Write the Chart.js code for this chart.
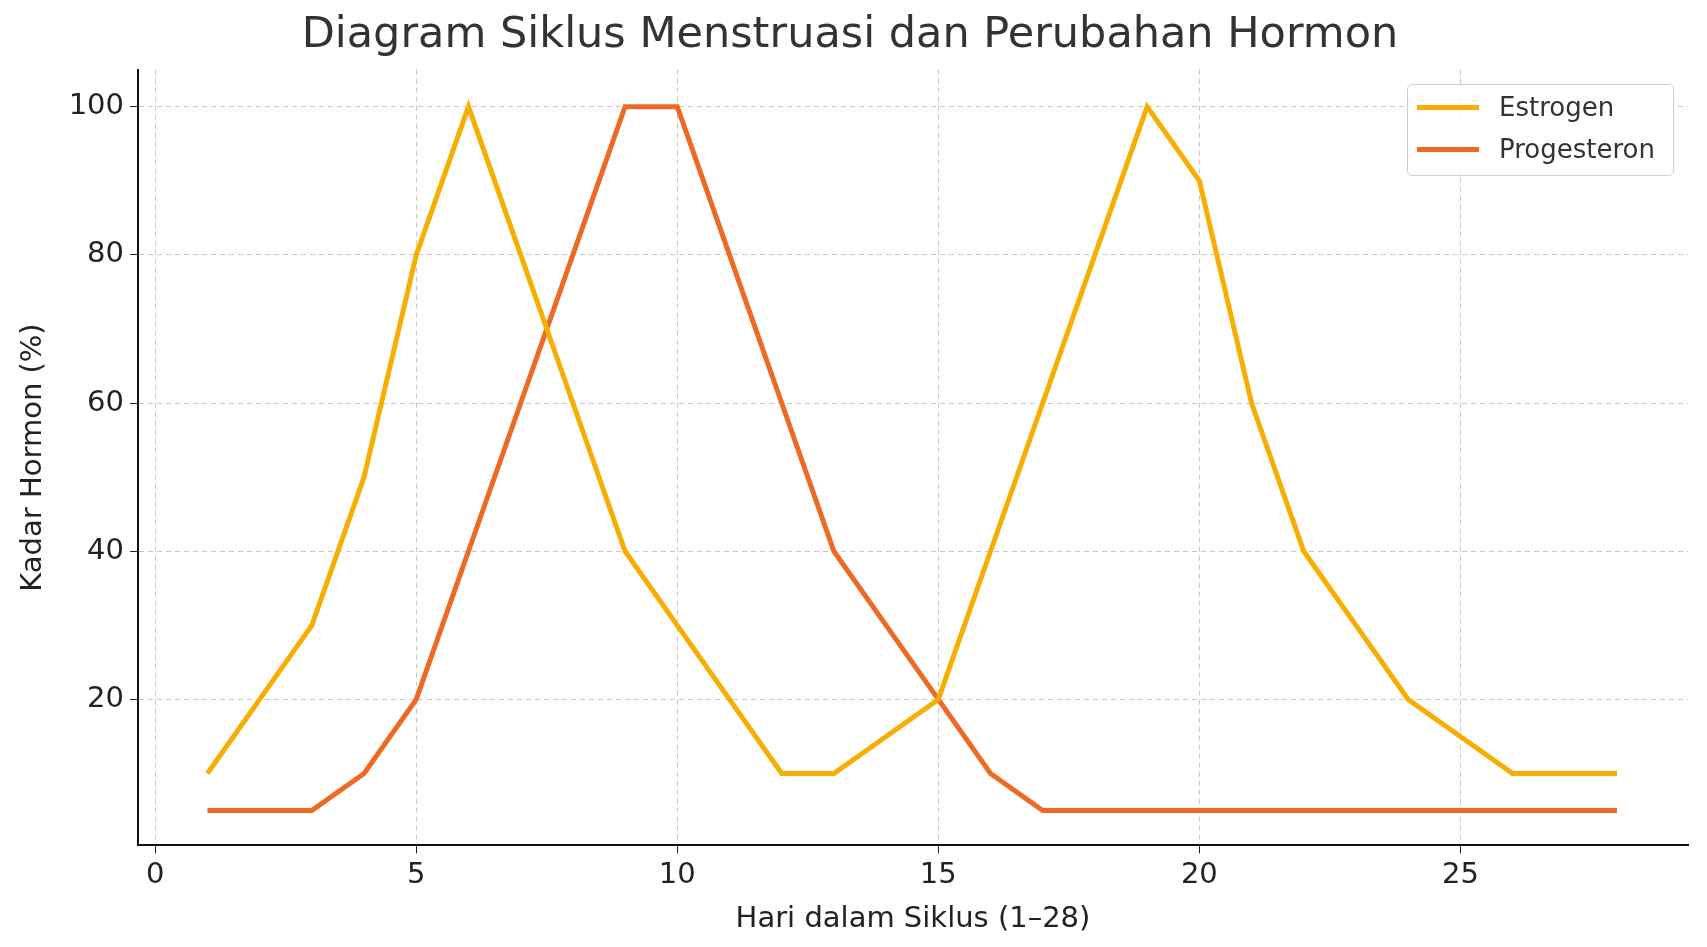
<!DOCTYPE html>
<html><head><meta charset="utf-8">
<script src="https://cdn.jsdelivr.net/npm/chart.js@4"></script>
<style>
html,body{margin:0;padding:0;background:#fff;}
#wrap{position:relative;width:1707px;height:947px;}
#legend{position:absolute;left:1407px;top:84px;width:267px;height:92px;border:1.5px solid #d0d0d0;border-radius:5px;background:rgba(255,255,255,0.85);font-family:"DejaVu Sans";font-size:26px;color:#333;box-sizing:border-box;}
.li{position:absolute;left:9px;display:flex;align-items:center;}
.sw{width:62px;height:5px;margin-right:20px;}
</style></head><body>
<div id="wrap"><canvas id="c" width="1707" height="947"></canvas>
<div id="legend">
<div class="li" style="top:7px"><div class="sw" style="background:#F8AE00"></div>Estrogen</div>
<div class="li" style="top:49px"><div class="sw" style="background:#EE6A24"></div>Progesteron</div>
</div></div>
<script>
const days = Array.from({length:28},(_,i)=>i+1);
const estrogen = [10,20,30,50,80,100,80,60,40,30,20,10,10,15,20,40,60,80,100,90,60,40,30,20,15,10,10,10];
const progesteron = [5,5,5,10,20,40,60,80,100,100,80,60,40,30,20,10,5,5,5,5,5,5,5,5,5,5,5,5];
const xTicks = [0,5,10,15,20,25];
const yTicks = [20,40,60,80,100];
const F = "DejaVu Sans";
new Chart(document.getElementById('c'),{
 type:'line',
 data:{datasets:[
  {label:'Estrogen',data:days.map((d,i)=>({x:d,y:estrogen[i]})),borderColor:'#F8AE00',borderWidth:5,pointRadius:0,tension:0},
  {label:'Progesteron',data:days.map((d,i)=>({x:d,y:progesteron[i]})),borderColor:'#EE6A24',borderWidth:5,pointRadius:0,tension:0}
 ]},
 options:{responsive:false,animation:false,
  layout:{padding:{left:12,right:19,top:0,bottom:10}},
  plugins:{legend:{display:false},tooltip:{enabled:false},
   title:{display:true,text:'Diagram Siklus Menstruasi dan Perubahan Hormon',color:'#333',font:{family:F,size:43,weight:'normal'},padding:{top:10,bottom:8}}},
  scales:{
   x:{type:'linear',min:-0.33,max:29.36,
    afterBuildTicks:s=>{s.ticks=xTicks.map(v=>({value:v}));},
    ticks:{color:'#222',font:{family:F,size:29},padding:5,maxRotation:0},
    grid:{color:'#c8c8c8',lineWidth:1,tickLength:8,tickColor:'#222'},
    border:{color:'#111',width:2,dash:[5,4]},
    title:{display:true,text:'Hari dalam Siklus (1–28)',color:'#222',font:{family:F,size:29},padding:{top:4,bottom:0}}},
   y:{min:0.3,max:105,
    afterBuildTicks:s=>{s.ticks=yTicks.map(v=>({value:v}));},
    afterFit:s=>{s.width=126;},
    ticks:{color:'#222',font:{family:F,size:29},padding:6},
    grid:{color:'#c8c8c8',lineWidth:1,tickLength:8,tickColor:'#222'},
    border:{color:'#111',width:2,dash:[5,4]},
    title:{display:true,text:'Kadar Hormon (%)',color:'#222',font:{family:F,size:29},padding:{bottom:2}}}
  }
 }
});
</script></body></html>
